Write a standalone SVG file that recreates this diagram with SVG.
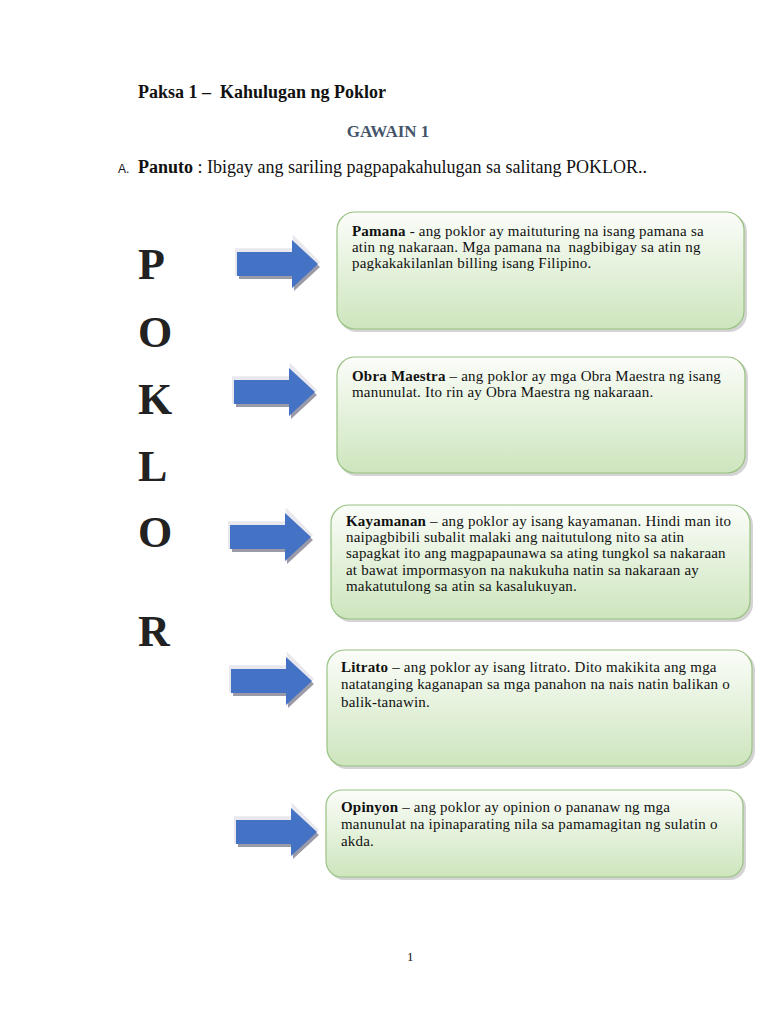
<svg xmlns="http://www.w3.org/2000/svg" width="768" height="1024" viewBox="0 0 768 1024">
<defs>
<linearGradient id="g" x1="0" y1="0" x2="0" y2="1">
<stop offset="0" stop-color="#fbfdf9"/>
<stop offset="1" stop-color="#cde5bd"/>
</linearGradient>
<path id="arr" d="M0,-12 H55 V-24 L81,0 L55,24 V12 H0 Z"/>
</defs>
<style>
text{font-family:"Liberation Serif","Times New Roman",serif;fill:#111}
.b{font-weight:bold}
.box{fill:url(#g);stroke:#98c282;stroke-width:1.2}
.sh{fill:#b8b8b8;opacity:0.6}
.t{font-size:15px;letter-spacing:0.2px}
.big{font-size:44px;font-weight:bold;fill:#222}
.ash{fill:#9a9aa8}
.aw{fill:#e8e8ee}
.ab{fill:#4472c4}
</style>
<rect width="768" height="1024" fill="#fff"/>
<g id="header">
<text x="138" y="98" class="b" font-size="18">Paksa 1 –&#160; Kahulugan ng Poklor</text>
<text x="388" y="137" class="b" font-size="17" text-anchor="middle" style="fill:#44546a">GAWAIN 1</text>
<text x="118" y="173" font-size="12" style="font-family:'Liberation Sans',Arial,sans-serif">A.</text>
<text x="138" y="173" font-size="18" style="font-family:'Liberation Serif','Times New Roman',serif"><tspan class="b">Panuto</tspan> : Ibigay ang sariling pagpapakahulugan sa salitang POKLOR..</text>
</g>
<g id="letters">
<text x="138" y="279" class="big">P</text>
<text x="138" y="347" class="big">O</text>
<text x="138" y="414" class="big">K</text>
<text x="138" y="481" class="big">L</text>
<text x="138" y="547" class="big">O</text>
<text x="138" y="646" class="big">R</text>
</g>
<g id="connectors">
<g transform="translate(237,264)"><use href="#arr" class="aw" transform="translate(-2,-2) scale(1.05,1.15)"/><use href="#arr" class="ash" transform="translate(2,3)"/><use href="#arr" class="ab"/></g>
<g transform="translate(234,392)"><use href="#arr" class="aw" transform="translate(-2,-2) scale(1.05,1.15)"/><use href="#arr" class="ash" transform="translate(2,3)"/><use href="#arr" class="ab"/></g>
<g transform="translate(230,537)"><use href="#arr" class="aw" transform="translate(-2,-2) scale(1.05,1.15)"/><use href="#arr" class="ash" transform="translate(2,3)"/><use href="#arr" class="ab"/></g>
<g transform="translate(231,681)"><use href="#arr" class="aw" transform="translate(-2,-2) scale(1.05,1.15)"/><use href="#arr" class="ash" transform="translate(2,3)"/><use href="#arr" class="ab"/></g>
<g transform="translate(236,832)"><use href="#arr" class="aw" transform="translate(-2,-2) scale(1.05,1.15)"/><use href="#arr" class="ash" transform="translate(2,3)"/><use href="#arr" class="ab"/></g>
</g>
<g id="pamana">
<rect x="339" y="214" width="408" height="118" rx="18" class="sh"/>
<rect x="337" y="212" width="407" height="117" rx="18" class="box"/>
<text class="t" x="352" y="236"><tspan class="b">Pamana</tspan> - ang poklor ay maituturing na isang pamana sa</text>
<text class="t" x="352" y="252">atin ng nakaraan. Mga pamana na&#160; nagbibigay sa atin ng</text>
<text class="t" x="352" y="268">pagkakakilanlan billing isang Filipino.</text>
</g>
<g id="obra">
<rect x="339" y="359" width="409" height="117" rx="18" class="sh"/>
<rect x="337" y="357" width="408" height="116" rx="18" class="box"/>
<text class="t" x="352" y="381"><tspan class="b">Obra Maestra</tspan> – ang poklor ay mga Obra Maestra ng isang</text>
<text class="t" x="352" y="397">manunulat. Ito rin ay Obra Maestra ng nakaraan.</text>
</g>
<g id="kayamanan">
<rect x="333" y="507" width="420" height="115" rx="18" class="sh"/>
<rect x="331" y="505" width="419" height="114" rx="18" class="box"/>
<text class="t" x="346" y="526"><tspan class="b">Kayamanan</tspan> – ang poklor ay isang kayamanan. Hindi man ito</text>
<text class="t" x="346" y="542">naipagbibili subalit malaki ang naitutulong nito sa atin</text>
<text class="t" x="346" y="558">sapagkat ito ang magpapaunawa sa ating tungkol sa nakaraan</text>
<text class="t" x="346" y="575">at bawat impormasyon na nakukuha natin sa nakaraan ay</text>
<text class="t" x="346" y="591">makatutulong sa atin sa kasalukuyan.</text>
</g>
<g id="litrato">
<rect x="329" y="652" width="426" height="117" rx="18" class="sh"/>
<rect x="327" y="650" width="425" height="116" rx="18" class="box"/>
<text class="t" x="341" y="672"><tspan class="b">Litrato</tspan> – ang poklor ay isang litrato. Dito makikita ang mga</text>
<text class="t" x="341" y="689">natatanging kaganapan sa mga panahon na nais natin balikan o</text>
<text class="t" x="341" y="707">balik-tanawin.</text>
</g>
<g id="opinyon">
<rect x="328" y="792" width="418" height="88" rx="16" class="sh"/>
<rect x="326" y="790" width="417" height="87" rx="16" class="box"/>
<text class="t" x="341" y="812"><tspan class="b">Opinyon</tspan> – ang poklor ay opinion o pananaw ng mga</text>
<text class="t" x="341" y="829">manunulat na ipinaparating nila sa pamamagitan ng sulatin o</text>
<text class="t" x="341" y="846">akda.</text>
</g>
<text x="407" y="961" font-size="13">1</text>
</svg>
